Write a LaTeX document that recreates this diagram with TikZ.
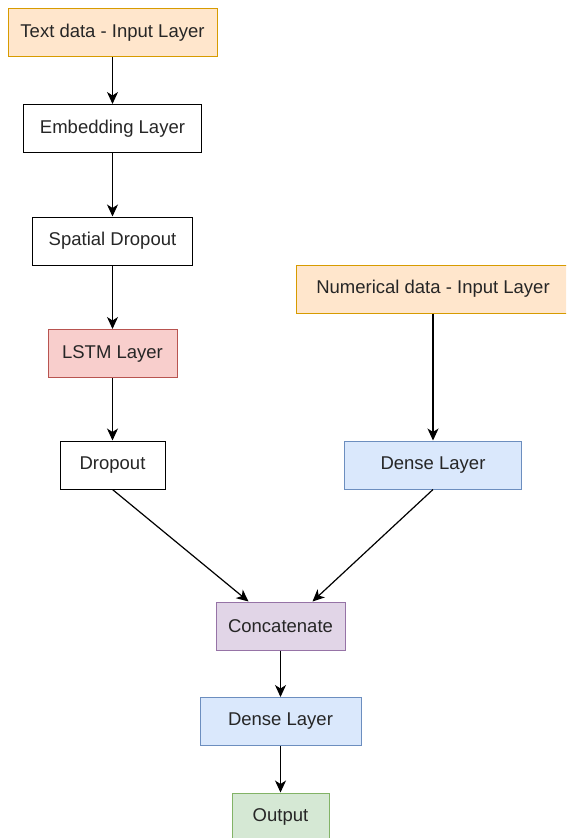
\documentclass[tikz,border=0pt]{standalone}
\usepackage{fontspec}
\setmainfont{Liberation Sans}
\usepackage{xcolor}
\usetikzlibrary{arrows.meta}
\definecolor{inFill}{HTML}{FFE6CC}
\definecolor{inLine}{HTML}{D79B00}
\definecolor{lstmFill}{HTML}{F8CECC}
\definecolor{lstmLine}{HTML}{B85450}
\definecolor{denseFill}{HTML}{DAE8FC}
\definecolor{denseLine}{HTML}{6C8EBF}
\definecolor{catFill}{HTML}{E1D5E7}
\definecolor{catLine}{HTML}{9673A6}
\definecolor{outFill}{HTML}{D5E8D4}
\definecolor{outLine}{HTML}{82B366}

\begin{document}
\begin{tikzpicture}[x=1pt, y=-1pt, font=\fontsize{18.5}{22}\selectfont,
    layer/.style={draw=black, line width=1pt, fill=white, text=black!85,
      inner sep=0pt, minimum height=48pt},
    input/.style={layer, draw=inLine, fill=inFill},
    lstm/.style={layer, draw=lstmLine, fill=lstmFill},
    dense/.style={layer, draw=denseLine, fill=denseFill},
    merge/.style={layer, draw=catLine, fill=catFill},
    result/.style={layer, draw=outLine, fill=outFill},
    flow/.style={-{Stealth[length=12pt, width=11pt, inset=3.5pt]}, line width=1.2pt}]
  \clip (0,0) rectangle (566,838);
  \fill[white] (0,0) rectangle (566,838);

  % text branch
  \node[input, minimum width=209pt] (textin) at (112.5,32.5) {Text data - Input Layer};
  \node[layer, minimum width=178pt] (embed) at (112.5,128.5) {Embedding Layer};
  \node[layer, minimum width=160pt] (spatial) at (112.5,241) {Spatial Dropout};
  \node[lstm, minimum width=129pt] (lstm) at (112.5,353.5) {LSTM Layer};
  \node[layer, minimum width=105pt] (drop) at (112.5,465) {Dropout};

  % numerical branch
  \node[input, minimum width=274pt] (numin) at (433,289) {Numerical data - Input Layer};
  \node[dense, minimum width=177pt] (densea) at (433,465) {Dense Layer};

  % merged head
  \node[merge, minimum width=129pt] (concat) at (280.5,626) {Concatenate};
  \node[dense, minimum width=161pt] (denseb) at (280.5,721.5) {Dense Layer};
  \node[result, minimum width=97pt] (output) at (280.5,817) {Output};

  \draw[flow] (textin) -- (embed);
  \draw[flow] (embed) -- (spatial);
  \draw[flow] (spatial) -- (lstm);
  \draw[flow] (lstm) -- (drop);
  \draw[flow] (numin) -- (densea);
  \draw[flow] (drop.south) -- ([xshift=-32pt]concat.north);
  \draw[flow] (densea.south) -- ([xshift=32pt]concat.north);
  \draw[flow] (concat) -- (denseb);
  \draw[flow] (denseb) -- (output);
\end{tikzpicture}
\end{document}
